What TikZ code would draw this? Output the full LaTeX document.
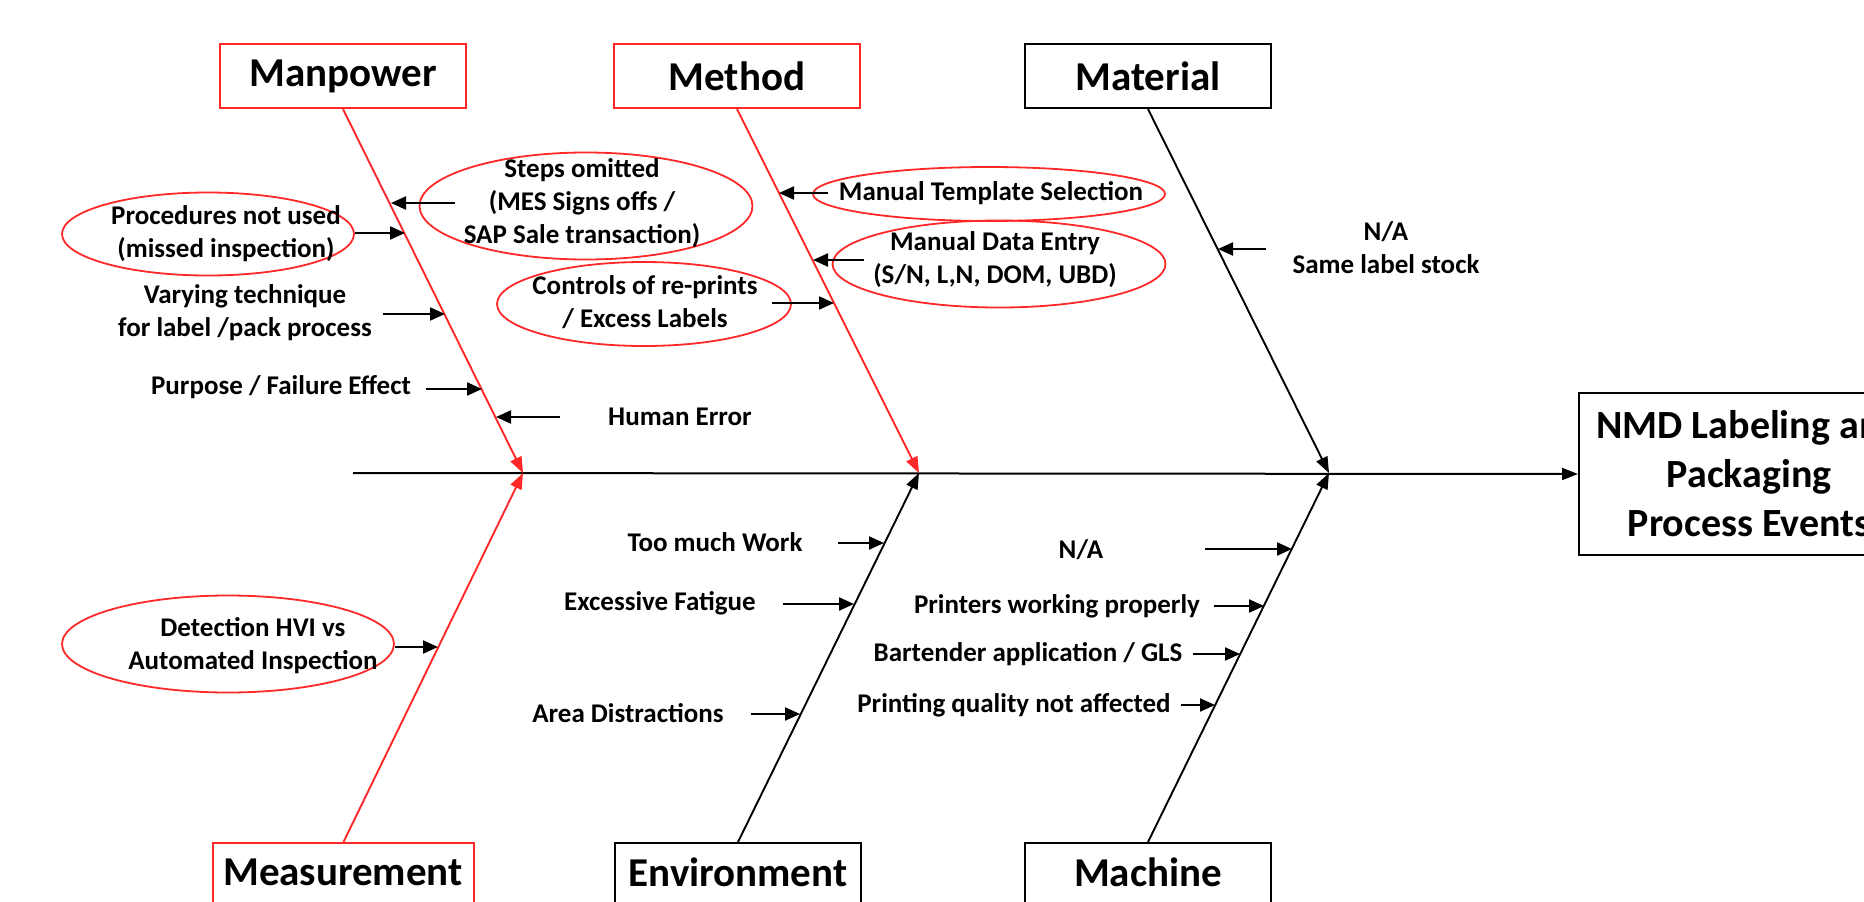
\documentclass[tikz,border=0pt]{standalone}
\usepackage{fontspec}
\setmainfont{Carlito}
\usetikzlibrary{arrows.meta,shapes.geometric}
\definecolor{fbred}{RGB}{255,40,40}
\begin{document}
\begin{tikzpicture}[x=1pt,y=-1pt,
  catbox/.style={draw=#1, line width=2.2pt, minimum width=246pt, minimum height=64pt, inner sep=0pt,
    font=\fontsize{41}{49}\selectfont\bfseries},
  catbox/.default=black,
  catlbl/.style={inner sep=0pt, font=\fontsize{41}{49}\selectfont\bfseries},
  causetext/.style={align=center, inner sep=0pt, font=\fontsize{27}{33}\selectfont\bfseries},
  causeell/.style={ellipse, draw=fbred, line width=1.8pt, inner sep=0pt},
  bone/.style={draw=#1, line width=1.9pt, -{Triangle[length=16pt,width=12pt,fill=#1]}},
  bone/.default=black,
  causearrow/.style={draw=black, line width=2.2pt, -{Triangle[length=15pt,width=13pt]}},
]
\useasboundingbox (0,0) rectangle (1864,902);
\clip (0,0) rectangle (1864,902);

% category boxes
\node[catbox=fbred] (manpower) at (343,76) {Manpower};
\node[catbox=fbred] (method) at (737,76) {Method};
\node[catbox] (material) at (1148,76) {Material};
\node[catbox=fbred, minimum width=261pt, anchor=north] (measurement) at (343.5,842) {};
\node[catlbl] (measurementlbl) at (343,872) {Measurement};
\node[catbox, anchor=north] (environment) at (738,842) {};
\node[catlbl] (environmentlbl) at (738,872) {Environment};
\node[catbox, anchor=north] (machine) at (1148,842) {};
\node[catlbl] (machinelbl) at (1148,872) {Machine};

% effect box
\node[draw, line width=2.2pt, minimum width=340pt, minimum height=162pt, inner sep=0pt,
  align=center, font=\fontsize{40}{49}\selectfont\bfseries, anchor=west] (effect) at (1578,474)
  {NMD Labeling and\\Packaging\\Process Events};

% spine
\coordinate (tail) at (353,473);
\coordinate (j1) at (523,473);
\coordinate (j2) at (919,473);
\coordinate (j3) at (1329,473);
\draw[line width=2pt, -{Triangle[length=16pt,width=12pt]}] (tail) -- (effect.west);

% bones
\draw[bone=fbred] (manpower.south) -- (j1);
\draw[bone=fbred] (method.south) -- (j2);
\draw[bone] (material.south) -- (j3);
\draw[bone=fbred] (measurement.north) -- (j1);
\draw[bone] (environment.north) -- (j2);
\draw[bone] (machine.north) -- (j3);

% Manpower causes
\node[causeell, minimum width=292pt, minimum height=83pt] (e1) at (208,234) {};
\node[causetext] (t1) at (226,234) {Procedures not used\\(missed inspection)};
\coordinate (p1) at (405,233);
\draw[causearrow] (e1.east |- p1) -- (p1);

\node[causeell, minimum width=333pt, minimum height=107pt] (e2) at (586,206) {};
\node[causetext] (t2) at (582,203) {Steps omitted\\(MES Signs offs /\\SAP Sale transaction)};
\coordinate (s2) at (455,203);
\coordinate (p2) at (391,203);
\draw[causearrow] (s2) -- (p2);

\node[causetext] (t3) at (245,313) {Varying technique\\for label /pack process};
\coordinate (s3) at (383,314);
\coordinate (p3) at (445,314);
\draw[causearrow] (s3) -- (p3);

\node[causetext] (t4) at (281,387) {Purpose / Failure Effect};
\coordinate (s4) at (426,389);
\coordinate (p4) at (482,389);
\draw[causearrow] (s4) -- (p4);

\node[causetext] (t5) at (680,417) {Human Error};
\coordinate (s5) at (560,417);
\coordinate (p5) at (496,417);
\draw[causearrow] (s5) -- (p5);

% Method causes
\node[causeell, minimum width=294pt, minimum height=84pt] (e3) at (644,304) {};
\node[causetext] (t6) at (645,302) {Controls of re-prints\\/ Excess Labels};
\coordinate (s6) at (772,303);
\coordinate (p6) at (834,303);
\draw[causearrow] (s6) -- (p6);

\node[causeell, minimum width=352pt, minimum height=54pt] (e4) at (989,194) {};
\node[causetext] (t7) at (991,193) {Manual Template Selection};
\coordinate (s7) at (828,193);
\coordinate (p7) at (779,193);
\draw[causearrow] (s7) -- (p7);

\node[causeell, minimum width=333pt, minimum height=87pt] (e5) at (999,264) {};
\node[causetext] (t8) at (995,260) {Manual Data Entry\\(S/N, L,N, DOM, UBD)};
\coordinate (s8) at (864,260);
\coordinate (p8) at (813,260);
\draw[causearrow] (s8) -- (p8);

% Material cause
\node[causetext] (t9) at (1386,248) {N/A\\Same label stock};
\coordinate (s9) at (1266,249);
\coordinate (p9) at (1218,249);
\draw[causearrow] (s9) -- (p9);

% Measurement cause
\node[causeell, minimum width=332pt, minimum height=97pt] (e6) at (228,644) {};
\node[causetext] (t10) at (253,646) {Detection HVI vs\\Automated Inspection};
\coordinate (p10) at (438,647);
\draw[causearrow] (e6.east |- p10) -- (p10);

% Environment causes
\node[causetext] (t11) at (715,542) {Too much Work};
\coordinate (s11) at (838,543);
\coordinate (p11) at (884,543);
\draw[causearrow] (s11) -- (p11);

\node[causetext] (t12) at (660,603) {Excessive Fatigue};
\coordinate (s12) at (783,604);
\coordinate (p12) at (854,604);
\draw[causearrow] (s12) -- (p12);

\node[causetext] (t13) at (628,713) {Area Distractions};
\coordinate (s13) at (751,714);
\coordinate (p13) at (800,714);
\draw[causearrow] (s13) -- (p13);

% Machine causes
\node[causetext] (t14) at (1081,550) {N/A};
\coordinate (s14) at (1205,549);
\coordinate (p14) at (1292,549);
\draw[causearrow] (s14) -- (p14);

\node[causetext] (t15) at (1057,606) {Printers working properly};
\coordinate (s15) at (1214,606);
\coordinate (p15) at (1264,606);
\draw[causearrow] (s15) -- (p15);

\node[causetext] (t16) at (1028,654) {Bartender application / GLS};
\coordinate (s16) at (1193,654);
\coordinate (p16) at (1240,654);
\draw[causearrow] (s16) -- (p16);

\node[causetext] (t17) at (1014,705) {Printing quality not affected};
\coordinate (s17) at (1181,705);
\coordinate (p17) at (1215,705);
\draw[causearrow] (s17) -- (p17);
\end{tikzpicture}
\end{document}
